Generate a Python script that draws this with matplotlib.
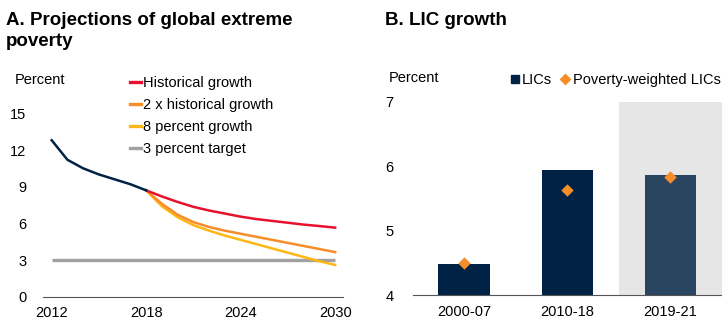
import matplotlib.pyplot as plt
from matplotlib.lines import Line2D

plt.rcParams['font.family'] = ['Liberation Sans', 'DejaVu Sans']

# --- Panel A data ---
hist_years = [2012, 2013, 2014, 2015, 2016, 2017, 2018]
hist_vals = [12.8, 11.2, 10.5, 10.0, 9.6, 9.2, 8.7]

proj_years = list(range(2018, 2031))
proj_hist = [8.7, 8.2, 7.75, 7.35, 7.05, 6.8, 6.55, 6.35, 6.2, 6.05, 5.9, 5.78, 5.65]
proj_2x = [8.7, 7.6, 6.7, 6.1, 5.7, 5.4, 5.15, 4.9, 4.65, 4.4, 4.15, 3.9, 3.65]
proj_8pct = [8.7, 7.4, 6.5, 5.85, 5.4, 5.0, 4.65, 4.3, 3.95, 3.6, 3.25, 2.9, 2.6]
target_years = [2012, 2030]
target_vals = [3, 3]

# --- Panel B data ---
periods = ['2000-07', '2010-18', '2019-21']
lic_growth = [4.48, 5.94, 5.87]
pov_weighted = [4.5, 5.63, 5.84]

NAVY = '#002345'
NAVY_LIGHT = '#2A4560'
RED = '#E8112D'
ORANGE = '#F78D28'
YELLOW = '#FDB714'
GRAY = '#A0A0A0'

fig = plt.figure(figsize=(7.22, 3.2), dpi=100)

# --- Panel A ---
ax1 = fig.add_axes([0.0596, 0.0728, 0.4155, 0.573])
ax1.plot(target_years, target_vals, color=GRAY, lw=2.4, solid_capstyle='butt')
ax1.plot(proj_years, proj_8pct, color=YELLOW, lw=1.8)
ax1.plot(proj_years, proj_2x, color=ORANGE, lw=1.8)
ax1.plot(proj_years, proj_hist, color=RED, lw=1.8)
ax1.plot(hist_years, hist_vals, color=NAVY, lw=1.8)
ax1.set_xlim(2011.45, 2030.5)
ax1.set_ylim(0, 15)
ax1.set_xticks([2012, 2018, 2024, 2030])
ax1.set_yticks([0, 3, 6, 9, 12, 15])
for s in ['top', 'right', 'left']:
    ax1.spines[s].set_visible(False)
ax1.spines['bottom'].set_color('#555555')
ax1.tick_params(axis='both', length=0, labelsize=10.5)
ax1.tick_params(axis='x', pad=7)
ax1.tick_params(axis='y', pad=12)

handles = [Line2D([], [], color=c, lw=2.4) for c in [RED, ORANGE, YELLOW, GRAY]]
labels = ['Historical growth', '2 x historical growth', '8 percent growth', '3 percent target']
fig.legend(handles, labels, loc='upper left', bbox_to_anchor=(0.18, 0.762),
           frameon=False, fontsize=10.5, handlelength=0.75, handletextpad=0.15,
           labelspacing=0.55, borderaxespad=0, borderpad=0)

fig.text(0.008, 0.962, 'A. Projections of global extreme\npoverty', fontsize=13.5,
         fontweight='bold', va='top', ha='left', linespacing=1.3)
fig.text(0.02, 0.75, 'Percent', fontsize=10.5, va='center', ha='left')

# --- Panel B ---
ax2 = fig.add_axes([0.5716, 0.0772, 0.4284, 0.605])
x = range(len(periods))
ax2.axvspan(1.5, 2.5, color='#E6E6E6', lw=0, zorder=0)
ax2.bar(x, [v - 4 for v in lic_growth], bottom=4, width=0.5,
        color=[NAVY, NAVY, NAVY_LIGHT], zorder=2)
ax2.scatter(x, pov_weighted, marker='D', s=40, color=ORANGE, zorder=3, linewidths=0)
ax2.set_xlim(-0.5, 2.5)
ax2.set_ylim(4, 7)
ax2.set_xticks(list(x))
ax2.set_xticklabels(periods)
ax2.set_yticks([4, 5, 6, 7])
for s in ['top', 'right', 'left']:
    ax2.spines[s].set_visible(False)
ax2.spines['bottom'].set_color('#555555')
ax2.tick_params(axis='both', length=0, labelsize=10.5)
ax2.tick_params(axis='x', pad=7)
ax2.tick_params(axis='y', pad=14)

handles2 = [Line2D([], [], marker='s', color=NAVY, ls='', markersize=5.5),
            Line2D([], [], marker='D', color=ORANGE, ls='', markersize=5.5)]
fig.legend(handles2, ['LICs', 'Poverty-weighted LICs'], loc='center right',
           bbox_to_anchor=(0.998, 0.75), frameon=False, fontsize=10.5, ncol=2,
           handlelength=0.6, handletextpad=0.2, columnspacing=0.6,
           borderaxespad=0, borderpad=0)

fig.text(0.533, 0.962, 'B. LIC growth', fontsize=13.5, fontweight='bold',
         va='top', ha='left')
fig.text(0.539, 0.757, 'Percent', fontsize=10.5, va='center', ha='left')

fig.savefig('out.png', dpi=100)
